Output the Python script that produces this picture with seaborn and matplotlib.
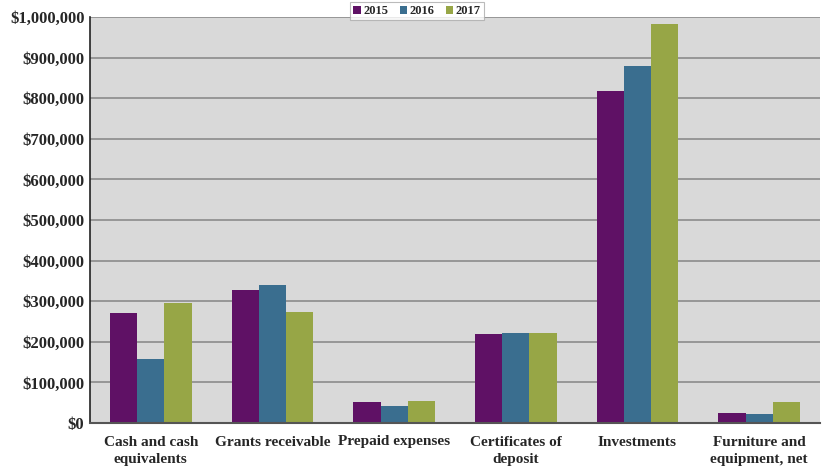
import pandas as pd
import numpy as np
import matplotlib.pyplot as plt
import seaborn as sns
from matplotlib.ticker import FuncFormatter, FixedLocator

categories = ["Cash and cash\nequivalents", "Grants receivable", "Prepaid expenses",
              "Certificates of\ndeposit", "Investments", "Furniture and\nequipment, net"]
years = ["2015", "2016", "2017"]
values_2015 = [270000, 328000, 52000, 219000, 818000, 25000]
values_2016 = [158000, 339000, 43000, 222000, 880000, 21000]
values_2017 = [295000, 273000, 54000, 222000, 983000, 52000]
colors = ["#5F1165", "#3A6E8F", "#97A646"]

df = pd.DataFrame({
    "Category": categories * 3,
    "Year": [y for y in years for _ in categories],
    "Value": values_2015 + values_2016 + values_2017,
})

sns.set_style("white")
plt.rcParams["font.family"] = ["Liberation Serif", "DejaVu Serif"]
plt.rcParams["font.weight"] = "bold"

fig = plt.figure(figsize=(8.22, 4.71), dpi=100)
ax = fig.add_axes([90 / 822, 48 / 471, 730 / 822, 406 / 471])
ax.set_facecolor("#D9D9D9")

sns.barplot(data=df, x="Category", y="Value", hue="Year", palette=colors,
            width=0.67, saturation=1, ax=ax, edgecolor="none")

ax.set_ylim(0, 1000000)
ax.set_xlim(-0.5, len(categories) - 0.5)
ax.set_yticks(np.arange(0, 1000001, 100000))
ax.yaxis.set_major_formatter(FuncFormatter(lambda v, p: "$0" if v == 0 else f"${v:,.0f}"))
ax.grid(axis="y", color="#8C8C8C", linewidth=1.2)
ax.set_axisbelow(True)

ax.set_xlabel("")
ax.set_ylabel("")
ax.tick_params(axis="y", labelsize=12, length=2, color="#333333", pad=2)
ax.tick_params(axis="x", which="major", length=0, labelsize=11, pad=9)
ax.xaxis.set_minor_locator(FixedLocator(np.arange(-0.5, len(categories), 1)))
ax.tick_params(axis="x", which="minor", length=4, color="#888888")
for lab in ax.get_xticklabels() + ax.get_yticklabels():
    lab.set_fontweight("bold")
for lab in ax.get_xticklabels():
    lab.set_linespacing(1.45)

for s in ["top", "right"]:
    ax.spines[s].set_visible(False)
ax.spines["left"].set_color("#222222")
ax.spines["left"].set_linewidth(1.2)
ax.spines["bottom"].set_color("#555555")
ax.spines["bottom"].set_linewidth(1.5)

leg = ax.legend(loc="upper center", bbox_to_anchor=(0.448, 1.052), ncol=3, frameon=True,
                fancybox=False, handlelength=0.6, handleheight=0.6, handletextpad=0.2,
                columnspacing=0.9, borderpad=0.25, fontsize=9)
leg.get_frame().set_edgecolor("#AAAAAA")
leg.get_frame().set_linewidth(0.8)
for t in leg.get_texts():
    t.set_fontweight("bold")

fig.savefig("out.png", dpi=100)
